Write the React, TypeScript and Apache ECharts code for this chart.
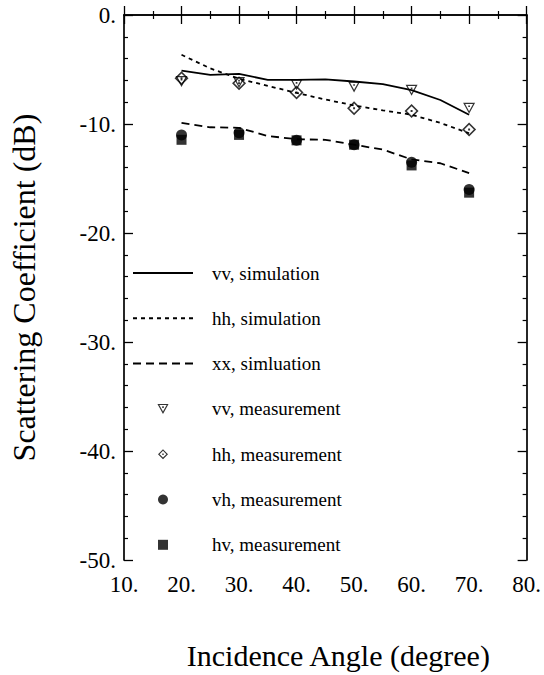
import React, { useEffect, useRef } from "react";
import * as echarts from "echarts";

const simAngles = [20, 25, 30, 35, 40, 45, 50, 55, 60, 65, 70];
const vvSim = [-5.1, -5.5, -5.4, -5.95, -5.95, -5.9, -6.1, -6.35, -6.9, -7.8, -9.15];
const hhSim = [-3.65, -4.9, -5.85, -6.5, -7.15, -7.75, -8.3, -8.75, -9.15, -9.9, -10.85];
const xxSim = [-9.9, -10.3, -10.35, -11.1, -11.4, -11.45, -11.9, -12.35, -13.25, -13.6, -14.5];

const measAngles = [20, 30, 40, 50, 60, 70];
const vvMeas = [-6.1, -6.2, -6.4, -6.6, -6.9, -8.55];
const hhMeas = [-5.8, -6.25, -7.1, -8.55, -8.8, -10.5];
const vhMeas = [-11.0, -10.8, -11.5, -11.9, -13.5, -16.0];
const hvMeas = [-11.45, -11.0, -11.5, -11.9, -13.8, -16.3];

const seriesNames = [
  "vv, simulation",
  "hh, simulation",
  "xx, simluation",
  "vv, measurement",
  "hh, measurement",
  "vh, measurement",
  "hv, measurement",
];

const TRI =
  "path://M0,0L10,0L5,9Z M1.7,1L5,6.9L8.3,1Z M4.3,2.2L5.7,2.2L5.7,3.6L4.3,3.6Z";
const DIA =
  "path://M5,0L10,5L5,10L0,5Z M5,1.6L1.6,5L5,8.4L8.4,5Z M4.3,4.3L5.7,4.3L5.7,5.7L4.3,5.7Z";
const SQ = "path://M0,0L10,0L10,10L0,10Z";

const FONT = "Liberation Serif";

function pair(xs: number[], ys: number[]) {
  return xs.map((x, i) => [x, ys[i]]);
}

export default function App() {
  const ref = useRef<HTMLDivElement>(null);
  useEffect(() => {
    if (!ref.current) return;
    const chart = echarts.init(ref.current, undefined, { renderer: "svg" });
    const axisLine = { show: true, lineStyle: { color: "#000", width: 1.7 } };
    const tick = { show: true, inside: true, length: 9, lineStyle: { color: "#000", width: 1.3 } };
    const lineSeries = (name: string, data: number[], type: any) => ({
      name,
      type: "line",
      data: pair(simAngles, data),
      symbol: "circle",
      showSymbol: false,
      symbolSize: 0,
      smooth: false,
      lineStyle: { color: "#000", width: 1.8, type },
      itemStyle: { color: "rgba(0,0,0,0)", borderWidth: 0 },
      z: 2,
    });
    const scatter = (name: string, data: number[], symbol: string, size: any) => ({
      name,
      type: "scatter",
      data: pair(measAngles, data),
      symbol,
      symbolSize: size,
      itemStyle: { color: "#000" },
      z: 3,
    });
    chart.setOption({
      animation: false,
      backgroundColor: "#fff",
      grid: { left: 112.5, right: 14, top: 15, bottom: 114 },
      legend: {
        orient: "vertical",
        left: 132,
        top: 263,
        padding: 0,
        itemWidth: 60,
        itemHeight: 10,
        itemGap: 25.3,
        data: seriesNames,
        textStyle: {
          fontFamily: FONT,
          fontSize: 19,
          color: "#000",
          lineHeight: 20,
          padding: [0, 0, 0, 14],
        },
      },
      xAxis: [
        {
          type: "value",
          min: 10,
          max: 80,
          interval: 10,
          name: "Incidence Angle (degree)",
          nameLocation: "middle",
          nameGap: 80,
          nameTextStyle: {
            fontFamily: FONT,
            fontSize: 30,
            color: "#000",
            padding: [0, 0, 0, 26],
          },
          axisLine,
          axisTick: tick,
          minorTick: { show: true, splitNumber: 2, length: 4, lineStyle: { color: "#000", width: 1.2 } },
          splitLine: { show: false },
          axisLabel: {
            fontFamily: FONT,
            fontSize: 23,
            color: "#000",
            margin: 13,
            formatter: (v: number) => v + ".",
          },
        },
        {
          type: "value",
          position: "top",
          min: 10,
          max: 80,
          interval: 10,
          axisLine,
          axisTick: tick,
          minorTick: { show: true, splitNumber: 2, length: 4, lineStyle: { color: "#000", width: 1.2 } },
          splitLine: { show: false },
          axisLabel: { show: false },
        },
      ],
      yAxis: [
        {
          type: "value",
          min: -50,
          max: 0,
          interval: 10,
          name: "Scattering Coefficient (dB)",
          nameLocation: "middle",
          nameGap: 84,
          nameRotate: 90,
          nameTextStyle: { fontFamily: FONT, fontSize: 32, color: "#000" },
          axisLine,
          axisTick: tick,
          minorTick: { show: true, splitNumber: 5, length: 4, lineStyle: { color: "#000", width: 1.2 } },
          splitLine: { show: false },
          axisLabel: {
            fontFamily: FONT,
            fontSize: 23,
            color: "#000",
            margin: 8,
            formatter: (v: number) => v + ".",
          },
        },
        {
          type: "value",
          position: "right",
          min: -50,
          max: 0,
          interval: 10,
          axisLine,
          axisTick: tick,
          minorTick: { show: true, splitNumber: 5, length: 4, lineStyle: { color: "#000", width: 1.2 } },
          splitLine: { show: false },
          axisLabel: { show: false },
        },
      ],
      series: [
        lineSeries(seriesNames[0], vvSim, "solid"),
        lineSeries(seriesNames[1], hhSim, [4, 4]),
        lineSeries(seriesNames[2], xxSim, [8, 5]),
        scatter(seriesNames[3], vvMeas, TRI, [12, 11]),
        scatter(seriesNames[4], hhMeas, DIA, 14),
        scatter(seriesNames[5], vhMeas, "circle", 11),
        scatter(seriesNames[6], hvMeas, SQ, 10),
      ],
    });
    return () => chart.dispose();
  }, []);
  return (
    <div
      ref={ref}
      style={{ position: "absolute", left: 0, top: 0, width: 544, height: 675 }}
    />
  );
}
